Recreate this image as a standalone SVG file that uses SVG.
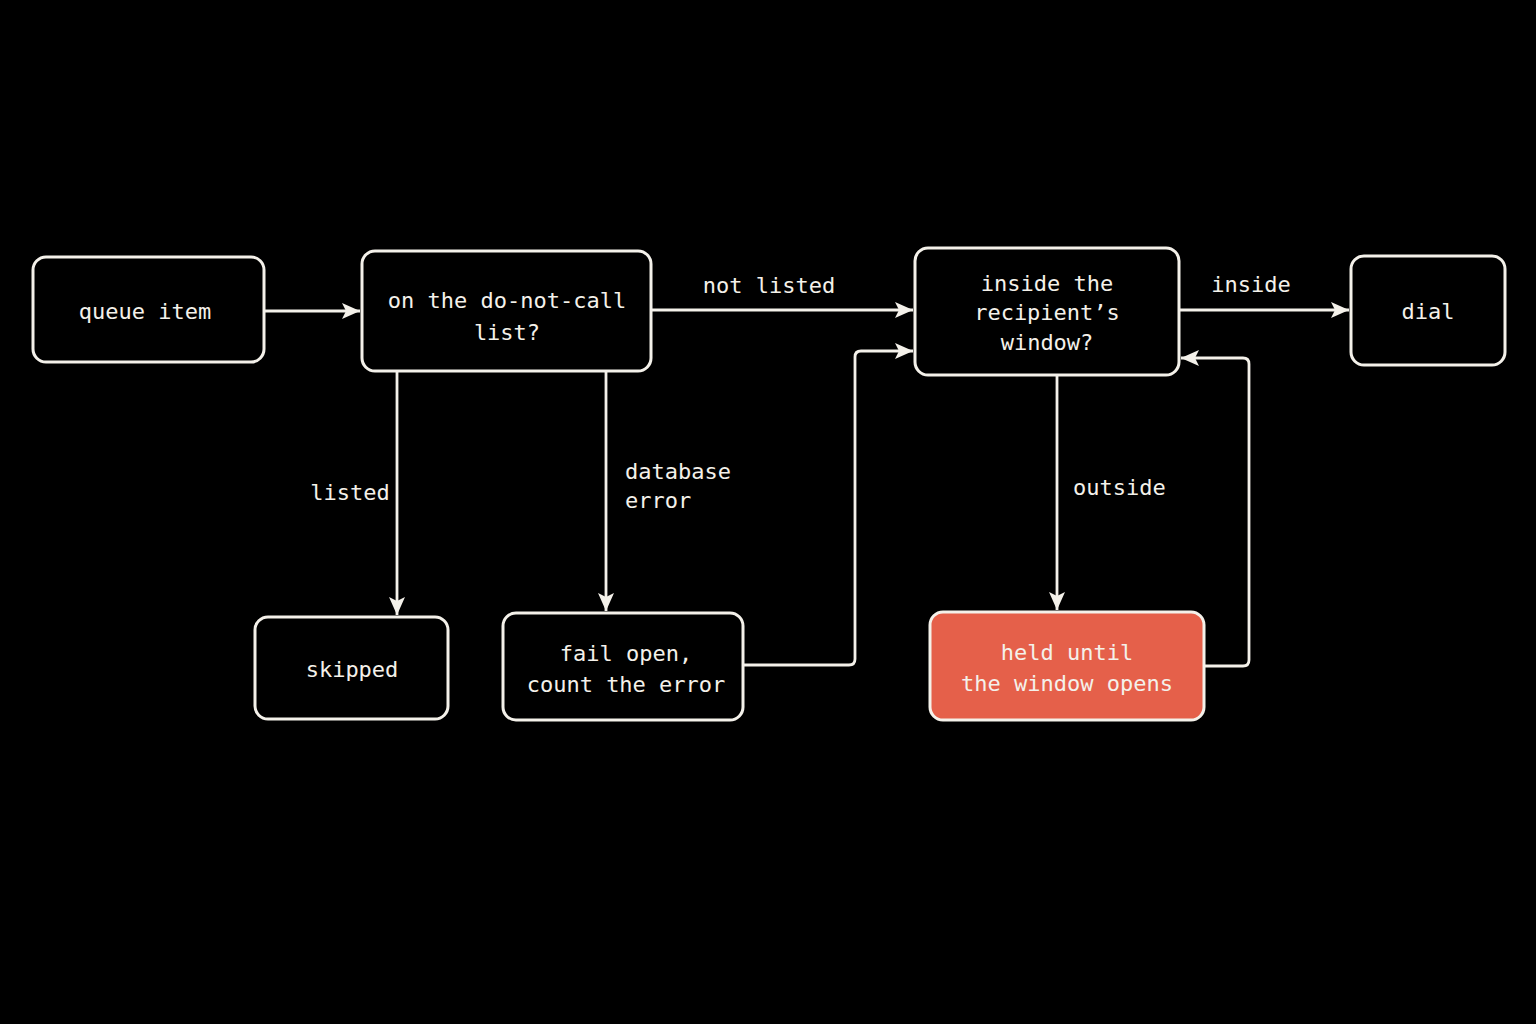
<svg xmlns="http://www.w3.org/2000/svg" width="1536" height="1024" viewBox="0 0 1536 1024">
<defs>
<marker id="ah" viewBox="0 0 18 16" refX="18" refY="8" markerWidth="18" markerHeight="16" markerUnits="userSpaceOnUse" orient="auto">
<path d="M0,0 L18,8 L0,16 L4,8 Z" fill="#f4f1ea"/>
</marker>
<style>
.node rect{fill:#000;stroke:#f4f1ea;stroke-width:3}
.node.hot rect{fill:#e5604a}
text{font-family:"DejaVu Sans Mono","Liberation Mono",monospace;font-size:22px;fill:#f4f1ea}
.c{text-anchor:middle}
.edge{fill:none;stroke:#f4f1ea;stroke-width:2.8;marker-end:url(#ah)}
</style>
</defs>
<rect width="1536" height="1024" fill="#000"/>
<g id="connectors">
<path class="edge" d="M264,311 H360"/>
<path class="edge" d="M651,310 H913"/>
<path class="edge" d="M1179,310 H1349"/>
<path class="edge" d="M397,371 V615"/>
<path class="edge" d="M606,371 V611"/>
<path class="edge" d="M743,665 H849 Q855,665 855,659 V357 Q855,351 861,351 H913"/>
<path class="edge" d="M1057,375 V610"/>
<path class="edge" d="M1204,666 H1243 Q1249,666 1249,660 V364 Q1249,358 1243,358 H1181"/>
<text x="769" y="293" class="c">not listed</text>
<text x="1251" y="292" class="c">inside</text>
<text x="350" y="500" class="c">listed</text>
<text x="625" y="479">database</text>
<text x="625" y="508">error</text>
<text x="1073" y="495">outside</text>
</g>
<g id="queue-item" class="node"><rect x="33" y="257" width="231" height="105" rx="13"/><text x="145" y="319" class="c">queue item</text></g>
<g id="dnc" class="node"><rect x="362" y="251" width="289" height="120" rx="13"/><text x="507" y="308" class="c">on the do-not-call</text><text x="507" y="340" class="c">list?</text></g>
<g id="window" class="node"><rect x="915" y="248" width="264" height="127" rx="13"/><text x="1047" y="291" class="c">inside the</text><text x="1047" y="320" class="c">recipient’s</text><text x="1047" y="350" class="c">window?</text></g>
<g id="dial" class="node"><rect x="1351" y="256" width="154" height="109" rx="13"/><text x="1428" y="319" class="c">dial</text></g>
<g id="skipped" class="node"><rect x="255" y="617" width="193" height="102" rx="13"/><text x="352" y="677" class="c">skipped</text></g>
<g id="fail-open" class="node"><rect x="503" y="613" width="240" height="107" rx="13"/><text x="626" y="661" class="c">fail open,</text><text x="626" y="692" class="c">count the error</text></g>
<g id="held" class="node hot"><rect x="930" y="612" width="274" height="108" rx="13"/><text x="1067" y="660" class="c">held until</text><text x="1067" y="691" class="c">the window opens</text></g>
</svg>
